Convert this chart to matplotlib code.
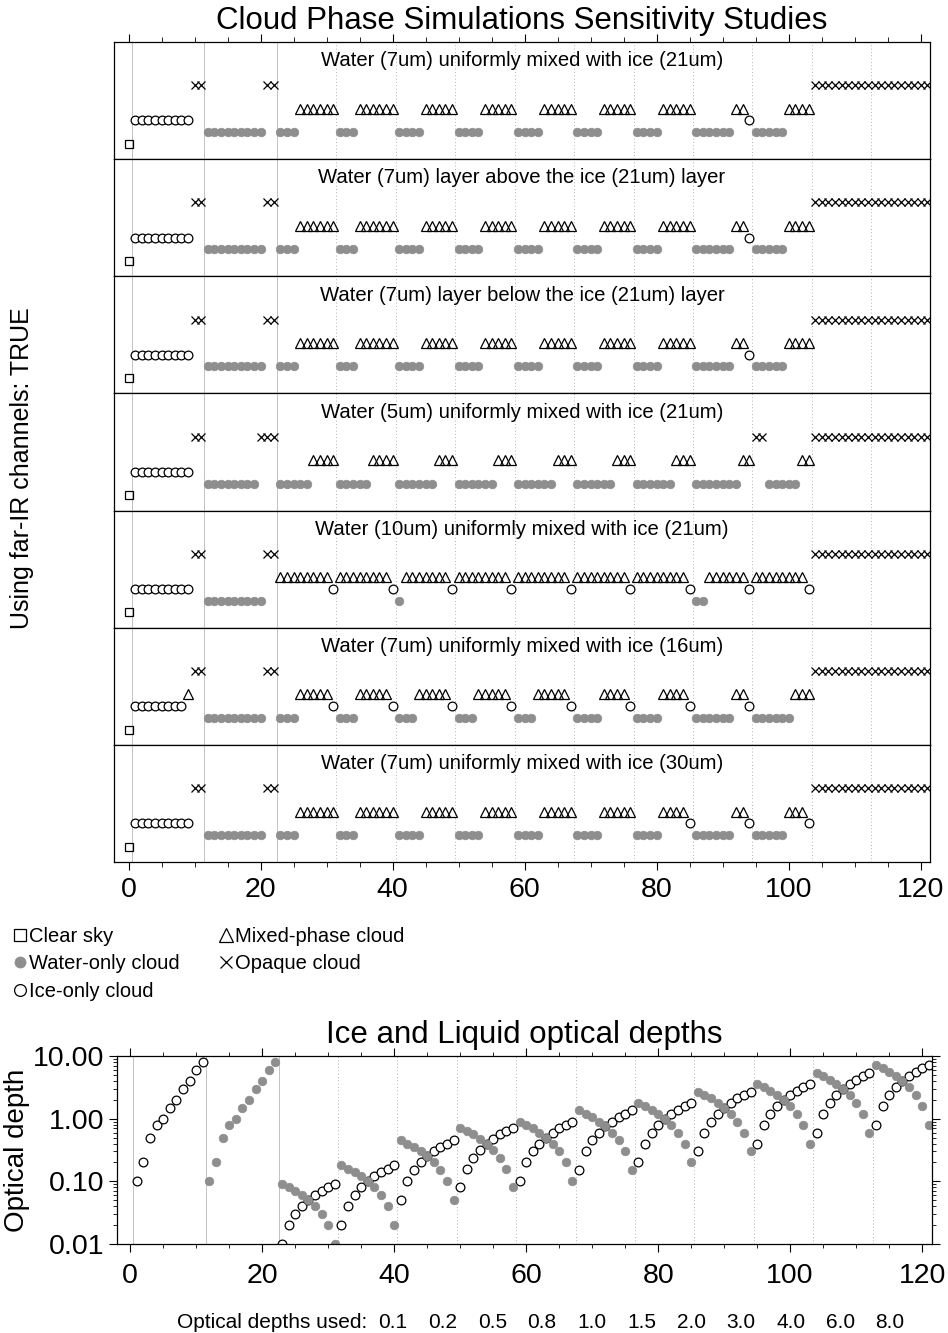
import numpy as np
import matplotlib
matplotlib.use('Agg')
import matplotlib.pyplot as plt
from matplotlib.lines import Line2D
from matplotlib.ticker import MultipleLocator, LogLocator, NullFormatter

plt.rcParams['font.family'] = ['Liberation Sans', 'DejaVu Sans']

# phase classes: C clear sky, W water-only, I ice-only, M mixed-phase, O opaque
row_titles = [
    'Water (7um) uniformly mixed with ice (21um)',
    'Water (7um) layer above the ice (21um) layer',
    'Water (7um) layer below the ice (21um) layer',
    'Water (5um) uniformly mixed with ice (21um)',
    'Water (10um) uniformly mixed with ice (21um)',
    'Water (7um) uniformly mixed with ice (16um)',
    'Water (7um) uniformly mixed with ice (30um)',
]

# run-length lists of the retrieved phase for cases 0..121
runs_7_21 = [('C', 1), ('I', 9), ('O', 2), ('W', 9), ('O', 2),
             ('W', 3), ('M', 6), ('W', 3), ('M', 6), ('W', 4), ('M', 5),
             ('W', 4), ('M', 5), ('W', 4), ('M', 5), ('W', 4), ('M', 5),
             ('W', 4), ('M', 5), ('W', 6), ('M', 2), ('I', 1), ('W', 5), ('M', 4),
             ('O', 18)]
runs_above = list(runs_7_21)
runs_below = list(runs_7_21)
runs_5_21 = [('C', 1), ('I', 9), ('O', 2), ('W', 8), ('O', 3),
             ('W', 5), ('M', 4), ('W', 5), ('M', 4), ('W', 6), ('M', 3),
             ('W', 6), ('M', 3), ('W', 6), ('M', 3), ('W', 6), ('M', 3),
             ('W', 6), ('M', 3), ('W', 7), ('M', 2), ('O', 2), ('W', 5), ('M', 2),
             ('O', 18)]
runs_10_21 = [('C', 1), ('I', 9), ('O', 2), ('W', 9), ('O', 2),
              ('M', 8), ('I', 1), ('M', 8), ('I', 1), ('W', 1), ('M', 7), ('I', 1),
              ('M', 8), ('I', 1), ('M', 8), ('I', 1), ('M', 8), ('I', 1),
              ('M', 8), ('I', 1), ('W', 2), ('M', 6), ('I', 1), ('M', 8), ('I', 1),
              ('O', 18)]
runs_7_16 = [('C', 1), ('I', 8), ('M', 1), ('O', 2), ('W', 9), ('O', 2),
             ('W', 3), ('M', 5), ('I', 1), ('W', 3), ('M', 5), ('I', 1),
             ('W', 3), ('M', 5), ('I', 1), ('W', 3), ('M', 5), ('I', 1),
             ('W', 3), ('M', 5), ('I', 1), ('W', 4), ('M', 4), ('I', 1),
             ('W', 4), ('M', 4), ('I', 1), ('W', 6), ('M', 2), ('I', 1),
             ('W', 6), ('M', 3), ('O', 18)]
runs_7_30 = [('C', 1), ('I', 9), ('O', 2), ('W', 9), ('O', 2),
             ('W', 3), ('M', 6), ('W', 3), ('M', 6), ('W', 4), ('M', 5),
             ('W', 4), ('M', 5), ('W', 4), ('M', 5), ('W', 4), ('M', 5),
             ('W', 4), ('M', 4), ('I', 1), ('W', 6), ('M', 2), ('I', 1),
             ('W', 5), ('M', 3), ('I', 1), ('O', 18)]
row_runs = [runs_7_21, runs_above, runs_below, runs_5_21, runs_10_21, runs_7_16, runs_7_30]

# optical depths
tau_used = [0.1, 0.2, 0.5, 0.8, 1.0, 1.5, 2.0, 3.0, 4.0, 6.0, 8.0]
ice_mixed = [
    [0.01, 0.02, 0.03, 0.04, 0.05, 0.06, 0.07, 0.08, 0.09],
    [0.02, 0.04, 0.06, 0.08, 0.10, 0.12, 0.14, 0.16, 0.18],
    [0.05, 0.10, 0.15, 0.20, 0.25, 0.30, 0.35, 0.40, 0.45],
    [0.08, 0.16, 0.24, 0.32, 0.40, 0.48, 0.56, 0.64, 0.72],
    [0.10, 0.20, 0.30, 0.40, 0.50, 0.60, 0.70, 0.80, 0.90],
    [0.15, 0.30, 0.45, 0.60, 0.75, 0.90, 1.05, 1.20, 1.35],
    [0.20, 0.40, 0.60, 0.80, 1.00, 1.20, 1.40, 1.60, 1.80],
    [0.30, 0.60, 0.90, 1.20, 1.50, 1.80, 2.10, 2.40, 2.70],
    [0.40, 0.80, 1.20, 1.60, 2.00, 2.40, 2.80, 3.20, 3.60],
    [0.60, 1.20, 1.80, 2.40, 3.00, 3.60, 4.20, 4.80, 5.40],
    [0.80, 1.60, 2.40, 3.20, 4.00, 4.80, 5.60, 6.40, 7.20],
]
liq_mixed = [
    [0.09, 0.08, 0.07, 0.06, 0.05, 0.04, 0.03, 0.02, 0.01],
    [0.18, 0.16, 0.14, 0.12, 0.10, 0.08, 0.06, 0.04, 0.02],
    [0.45, 0.40, 0.35, 0.30, 0.25, 0.20, 0.15, 0.10, 0.05],
    [0.72, 0.64, 0.56, 0.48, 0.40, 0.32, 0.24, 0.16, 0.08],
    [0.90, 0.80, 0.70, 0.60, 0.50, 0.40, 0.30, 0.20, 0.10],
    [1.35, 1.20, 1.05, 0.90, 0.75, 0.60, 0.45, 0.30, 0.15],
    [1.80, 1.60, 1.40, 1.20, 1.00, 0.80, 0.60, 0.40, 0.20],
    [2.70, 2.40, 2.10, 1.80, 1.50, 1.20, 0.90, 0.60, 0.30],
    [3.60, 3.20, 2.80, 2.40, 2.00, 1.60, 1.20, 0.80, 0.40],
    [5.40, 4.80, 4.20, 3.60, 3.00, 2.40, 1.80, 1.20, 0.60],
    [7.20, 6.40, 5.60, 4.80, 4.00, 3.20, 2.40, 1.60, 0.80],
]
tau_labels = ['0.1', '0.2', '0.5', '0.8', '1.0', '1.5', '2.0', '3.0', '4.0', '6.0', '8.0']

# case group boundaries
bounds_solid = [0.5, 11.5, 22.5]
bounds_dotted = [31.5, 40.5, 49.5, 58.5, 67.5, 76.5, 85.5, 94.5, 103.5, 112.5]

n_cases = 122
gray = '#8e8e8e'
levels = {'C': 1, 'W': 2, 'I': 3, 'M': 4, 'O': 6}
styles = {
    'C': dict(marker='s', mfc='none', mec='k', ms=6, mew=0.9),
    'W': dict(marker='o', mfc=gray, mec=gray, ms=6.2, mew=0.5),
    'I': dict(marker='o', mfc='white', mec='k', ms=6.3, mew=0.9),
    'M': dict(marker='^', mfc='none', mec='k', ms=6.5, mew=0.9),
    'O': dict(marker='x', color='k', ms=6, mew=0.9),
}
tick_fs = 20.5

fig = plt.figure(figsize=(9.48, 13.33), dpi=100)
W, H = 948.0, 1333.0

top_l, top_r, top_t, top_b = 114, 930, 42, 862
row_h = (top_b - top_t) / 7.0
xlim = (-2.2, 121.4)

axes = []
for i in range(7):
    y0 = top_t + i * row_h
    ax = fig.add_axes([top_l / W, 1 - (y0 + row_h) / H, (top_r - top_l) / W, row_h / H])
    axes.append(ax)
    codes = []
    for c, n in row_runs[i]:
        codes += [c] * n
    codes = np.array(codes)
    x = np.arange(len(codes))
    for b in bounds_solid:
        ax.axvline(b, color='#b8b8b8', lw=0.6, zorder=0)
    for b in bounds_dotted:
        ax.axvline(b, color='#9a9a9a', lw=0.6, ls=(0, (1, 3)), zorder=0)
    for c in ['W', 'C', 'I', 'M', 'O']:
        m = codes == c
        if m.any():
            ax.plot(x[m], np.full(m.sum(), levels[c]), ls='none', **styles[c])
    ax.text(0.5, 0.84, row_titles[i], transform=ax.transAxes, ha='center', va='center', fontsize=14.6)
    ax.set_xlim(*xlim)
    ax.set_ylim(-0.3, 9.7)
    ax.set_yticks([])
    ax.xaxis.set_major_locator(MultipleLocator(20))
    ax.xaxis.set_minor_locator(MultipleLocator(5))
    ax.tick_params(axis='x', which='both', direction='out', bottom=False, top=False,
                   labelbottom=False)
    for s in ax.spines.values():
        s.set_linewidth(0.9)

axes[0].tick_params(axis='x', which='both', top=True)
axes[0].tick_params(axis='x', which='major', length=6)
axes[0].tick_params(axis='x', which='minor', length=3.5)
axes[-1].tick_params(axis='x', which='both', bottom=True, labelbottom=True, labelsize=tick_fs, pad=5)
axes[-1].tick_params(axis='x', which='major', length=6)
axes[-1].tick_params(axis='x', which='minor', length=3.5)

fig.text(0.5 * (top_l + top_r) / W, 1 - 21 / H, 'Cloud Phase Simulations Sensitivity Studies',
         ha='center', va='center', fontsize=22.5)
fig.text(22 / W, 1 - 468 / H, 'Using far-IR channels: TRUE', rotation=90,
         ha='center', va='center', fontsize=18)

# legend
leg_styles = {
    'C': dict(marker='s', mfc='none', mec='k', ms=8.5, mew=0.9),
    'W': dict(marker='o', mfc=gray, mec=gray, ms=8, mew=0.5),
    'I': dict(marker='o', mfc='none', mec='k', ms=8.5, mew=0.9),
    'M': dict(marker='^', mfc='none', mec='k', ms=9.5, mew=0.9),
    'O': dict(marker='x', color='k', ms=9, mew=0.9),
}
handles = [Line2D([], [], ls='none', **leg_styles[c]) for c in ['C', 'W', 'I', 'M', 'O']]
labels = ['Clear sky', 'Water-only cloud', 'Ice-only cloud', 'Mixed-phase cloud', 'Opaque cloud']
fig.legend(handles, labels, loc='upper left', bbox_to_anchor=(12 / W, 1 - 927 / H), ncol=2,
           frameon=False, fontsize=14.5, handlelength=0.8, handletextpad=0.05,
           columnspacing=1.9, labelspacing=0.42, borderaxespad=0, borderpad=0)

# bottom panel: optical depths
ice = np.full(n_cases, np.nan)
liq = np.full(n_cases, np.nan)
ice[1:12] = tau_used
liq[12:23] = tau_used
ice[23:] = np.ravel(ice_mixed)
liq[23:] = np.ravel(liq_mixed)
xc = np.arange(n_cases)

bl, br, bt, bb = 117, 932, 1056, 1244
axb = fig.add_axes([bl / W, 1 - bb / H, (br - bl) / W, (bb - bt) / H])
for b in bounds_solid:
    axb.axvline(b, color='#b8b8b8', lw=0.6, zorder=0)
for b in bounds_dotted:
    axb.axvline(b, color='#9a9a9a', lw=0.6, ls=(0, (1, 3)), zorder=0)
axb.plot(xc, ice, ls='none', marker='o', mfc='white', mec='k', ms=6.3, mew=0.9)
axb.plot(xc, liq, ls='none', marker='o', mfc=gray, mec=gray, ms=6.2, mew=0.5)
axb.set_yscale('log')
axb.set_ylim(0.01, 10)
axb.set_xlim(-2.0, 121.5)
axb.set_yticks([0.01, 0.1, 1, 10])
axb.set_yticklabels(['0.01', '0.10', '1.00', '10.00'])
axb.yaxis.set_minor_locator(LogLocator(base=10, subs=np.arange(2, 10)))
axb.yaxis.set_minor_formatter(NullFormatter())
axb.xaxis.set_major_locator(MultipleLocator(20))
axb.xaxis.set_minor_locator(MultipleLocator(5))
axb.tick_params(which='both', direction='out', top=True, right=True, labelsize=tick_fs)
axb.tick_params(which='major', length=6)
axb.tick_params(which='minor', length=3)
axb.tick_params(axis='x', pad=8)
axb.tick_params(axis='y', pad=3)
axb.set_ylabel('Optical depth', fontsize=20, labelpad=2)
for s in axb.spines.values():
    s.set_linewidth(0.9)
axb.set_title('Ice and Liquid optical depths', fontsize=22.5, pad=9)

fig.text(367 / W, 1 - 1322 / H, 'Optical depths used:', ha='right', va='center', fontsize=15)
for k, lab in enumerate(tau_labels):
    fig.text((393 + 49.7 * k) / W, 1 - 1322 / H, lab, ha='center', va='center', fontsize=15)

fig.savefig('out.png', dpi=100)
